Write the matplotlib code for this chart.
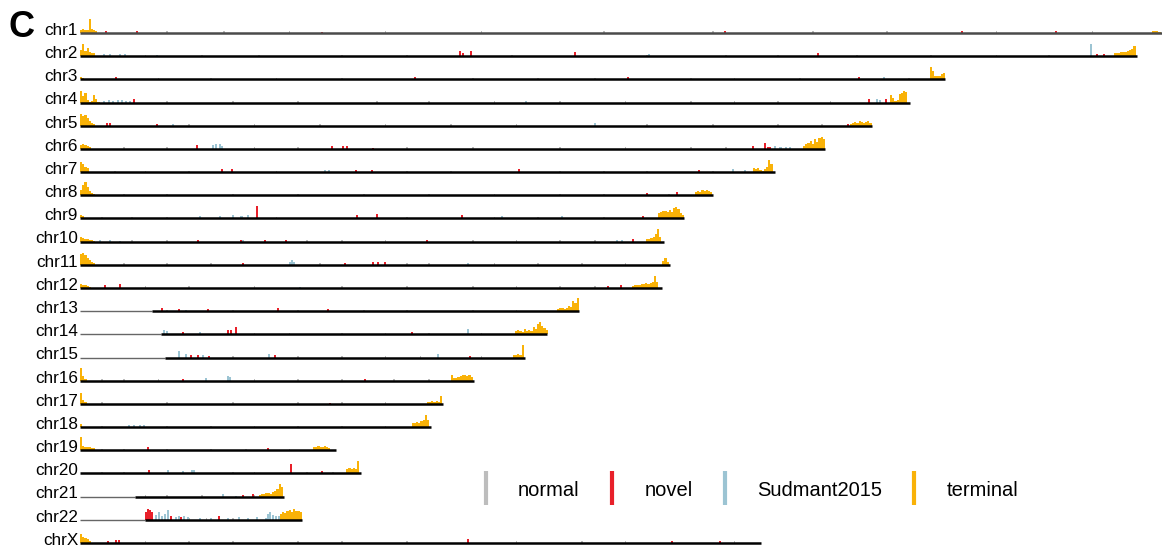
import matplotlib.pyplot as plt
from matplotlib.lines import Line2D

# chromosome names and lengths (Mb)
chroms = ['chr1', 'chr2', 'chr3', 'chr4', 'chr5', 'chr6', 'chr7', 'chr8', 'chr9', 'chr10', 'chr11', 'chr12',
          'chr13', 'chr14', 'chr15', 'chr16', 'chr17', 'chr18', 'chr19', 'chr20', 'chr21', 'chr22', 'chrX']
chrom_len = [248.96, 242.19, 198.30, 190.21, 181.54, 170.81, 159.35, 145.14, 138.39, 133.80, 135.09, 133.28,
             114.36, 107.04, 101.99, 90.34, 83.26, 80.37, 58.62, 64.44, 46.71, 50.82, 156.04]
# acrocentric short arms (drawn thin)
p_arm = {'chr13': 16.5, 'chr14': 18.5, 'chr15': 19.5, 'chr21': 12.5, 'chr22': 15.0}

# terminal clusters: (chrom, start Mb, heights per 0.5 Mb bin)
terminal = [
    ('chr1', 0.0, [3, 4, 3, 3, 14, 4, 3, 2]), ('chr1', 245.6, [2, 2, 2, 1]),
    ('chr2', 0.0, [6, 12, 5, 8, 4, 3, 3]), ('chr2', 236.9, [3, 3, 3, 4, 4, 4, 5, 6, 7, 10]),
    ('chr3', 0.0, [2, 1]), ('chr3', 194.8, [12, 8, 3, 3, 3, 5, 6]),
    ('chr4', 0.0, [12, 7, 10, 3, 1, 2, 8, 4, 1]), ('chr4', 185.6, [8, 5, 2, 3, 9, 10, 12, 11]),
    ('chr5', 0.0, [12, 10, 11, 8, 5, 3, 2]), ('chr5', 176.4, [2, 3, 4, 3, 5, 4, 3, 4, 5, 3]),
    ('chr6', 0.0, [4, 5, 4, 3, 2]), ('chr6', 165.7, [3, 5, 6, 8, 5, 10, 7, 11, 12, 10]),
    ('chr7', 0.0, [10, 8, 5, 4]), ('chr7', 154.2, [4, 3, 4, 2, 1, 3, 5, 12, 8]),
    ('chr8', 0.0, [5, 10, 13, 8, 4, 2, 1]), ('chr8', 140.9, [3, 4, 3, 5, 4, 5, 4, 3]),
    ('chr9', 0.0, [3, 2]), ('chr9', 132.4, [5, 6, 7, 7, 6, 8, 6, 10, 11, 9, 5, 3]),
    ('chr10', 0.0, [5, 4, 3, 3, 2, 2, 1]), ('chr10', 129.7, [3, 3, 4, 5, 8, 13, 5]),
    ('chr11', 0.0, [11, 12, 10, 7, 5, 3, 2]), ('chr11', 133.4, [4, 7, 3]),
    ('chr12', 0.0, [4, 3, 3, 2, 1]), ('chr12', 126.5, [2, 3, 3, 3, 4, 4, 5, 4, 5, 6, 12, 6]),
    ('chr13', 109.3, [2, 3, 3, 2, 3, 5, 4, 10, 8, 13]),
    ('chr14', 99.7, [3, 4, 3, 2, 5, 3, 4, 3, 7, 5, 10, 12, 8, 6, 4]),
    ('chr15', 99.2, [3, 3, 4, 3, 13]),
    ('chr16', 0.0, [13, 5, 2]), ('chr16', 85.0, [6, 3, 3, 4, 5, 6, 6, 5, 6, 4]),
    ('chr17', 0.0, [11, 4, 2]), ('chr17', 79.5, [2, 2, 3, 2, 3, 2, 8]),
    ('chr18', 0.0, [3]), ('chr18', 76.0, [4, 4, 5, 4, 6, 7, 12, 7]),
    ('chr19', 0.0, [13, 4, 3, 3, 3, 2, 2]), ('chr19', 53.4, [3, 3, 4, 3, 3, 4, 3, 2]),
    ('chr20', 61.0, [4, 5, 4, 5, 4, 12]),
    ('chr21', 41.0, [2, 3, 3, 4, 4, 3, 5, 6, 8, 13, 10]),
    ('chr22', 45.8, [6, 8, 7, 9, 10, 8, 11, 9, 9, 8]),
    ('chrX', 0.0, [9, 6, 5, 4, 2]),
]

# novel peaks: (chrom, Mb, height)
novel = [
    ('chr1', 6.0, 2), ('chr1', 13.1, 2), ('chr1', 55.5, 1), ('chr1', 147.8, 2), ('chr1', 202.1, 2), ('chr1', 223.6, 2),
    ('chr2', 87.1, 5), ('chr2', 87.8, 3), ('chr2', 89.6, 5), ('chr2', 113.4, 4), ('chr2', 169.1, 3),
    ('chr2', 233.0, 2), ('chr2', 234.7, 2),
    ('chr3', 8.2, 2), ('chr3', 76.8, 2), ('chr3', 125.6, 2), ('chr3', 178.5, 2),
    ('chr4', 12.4, 4), ('chr4', 180.8, 4), ('chr4', 184.7, 4),
    ('chr5', 6.2, 3), ('chr5', 6.9, 3), ('chr5', 17.6, 2), ('chr5', 176.0, 2),
    ('chr6', 26.8, 4), ('chr6', 57.7, 3), ('chr6', 60.3, 3), ('chr6', 61.2, 3), ('chr6', 67.1, 1),
    ('chr6', 154.2, 3), ('chr6', 157.0, 6), ('chr6', 157.7, 2), ('chr6', 158.1, 2),
    ('chr7', 32.5, 3), ('chr7', 34.8, 3), ('chr7', 63.2, 2), ('chr7', 66.9, 2), ('chr7', 100.6, 3), ('chr7', 141.8, 2),
    ('chr8', 129.9, 2), ('chr8', 136.8, 3),
    ('chr9', 40.6, 12), ('chr9', 63.5, 3), ('chr9', 68.1, 4), ('chr9', 87.5, 3), ('chr9', 129.0, 2),
    ('chr10', 27.0, 2), ('chr10', 36.9, 2), ('chr10', 42.4, 2), ('chr10', 47.2, 2), ('chr10', 79.5, 2),
    ('chr10', 126.7, 3),
    ('chr11', 37.4, 2), ('chr11', 60.7, 2), ('chr11', 67.1, 3), ('chr11', 68.3, 3), ('chr11', 69.9, 3),
    ('chr12', 5.7, 3), ('chr12', 9.2, 4), ('chr12', 121.0, 2), ('chr12', 124.0, 3),
    ('chr13', 18.8, 3), ('chr13', 22.7, 2), ('chr13', 29.3, 2), ('chr13', 45.4, 3), ('chr13', 56.8, 2),
    ('chr14', 23.6, 2), ('chr14', 33.9, 4), ('chr14', 34.6, 4), ('chr14', 35.7, 7), ('chr14', 76.1, 2),
    ('chr15', 25.4, 3), ('chr15', 27.0, 3), ('chr15', 29.6, 2), ('chr15', 44.7, 3), ('chr15', 89.4, 2),
    ('chr16', 23.6, 2), ('chr16', 65.3, 2),
    ('chr17', 57.3, 1),
    ('chr19', 15.6, 3), ('chr19', 43.1, 2),
    ('chr20', 15.8, 3), ('chr20', 48.3, 9), ('chr20', 55.5, 2),
    ('chr21', 37.4, 2), ('chr21', 39.6, 3),
    ('chr22', 15.1, 8), ('chr22', 15.6, 11), ('chr22', 16.0, 10), ('chr22', 16.5, 8), ('chr22', 20.9, 4),
    ('chr22', 23.1, 3), ('chr22', 31.9, 4),
    ('chrX', 6.4, 2), ('chrX', 8.2, 3), ('chrX', 8.9, 3), ('chrX', 88.9, 4), ('chrX', 135.7, 2), ('chrX', 146.7, 2),
]

# Sudmant2015 peaks: (chrom, Mb, height)
sudmant = [
    ('chr2', 5.5, 2), ('chr2', 6.9, 2), ('chr2', 9.2, 2), ('chr2', 10.3, 2), ('chr2', 17.6, 1), ('chr2', 130.4, 2),
    ('chr2', 231.7, 12),
    ('chr3', 184.2, 2),
    ('chr4', 5.5, 2), ('chr4', 6.6, 3), ('chr4', 7.6, 2), ('chr4', 8.7, 3), ('chr4', 9.6, 3), ('chr4', 10.5, 2),
    ('chr4', 11.5, 2), ('chr4', 102.2, 2), ('chr4', 182.6, 4), ('chr4', 183.3, 3),
    ('chr5', 21.3, 2), ('chr5', 118.0, 3),
    ('chr6', 30.5, 4), ('chr6', 31.2, 5), ('chr6', 32.1, 5), ('chr6', 32.5, 3),
    ('chr6', 159.3, 3), ('chr6', 160.5, 2), ('chr6', 161.7, 2), ('chr6', 162.7, 2),
    ('chr7', 56.1, 2), ('chr7', 57.1, 2), ('chr7', 149.6, 3), ('chr7', 152.4, 2),
    ('chr9', 27.5, 2), ('chr9', 32.0, 2), ('chr9', 35.0, 3), ('chr9', 37.0, 2), ('chr9', 38.5, 3),
    ('chr9', 96.7, 2), ('chr9', 110.4, 2),
    ('chr10', 4.6, 2), ('chr10', 6.9, 2), ('chr10', 9.2, 1), ('chr10', 37.4, 2), ('chr10', 123.0, 2),
    ('chr10', 124.2, 2),
    ('chr11', 48.1, 3), ('chr11', 48.6, 5), ('chr11', 49.0, 3), ('chr11', 88.9, 2),
    ('chr12', 50.4, 1),
    ('chr13', 24.3, 1),
    ('chr14', 19.2, 4), ('chr14', 19.9, 3), ('chr14', 27.5, 2), ('chr14', 88.9, 5),
    ('chr15', 22.7, 7), ('chr15', 24.3, 4), ('chr15', 28.2, 3), ('chr15', 43.3, 4), ('chr15', 82.0, 4),
    ('chr16', 28.9, 3), ('chr16', 33.9, 5), ('chr16', 34.4, 4),
    ('chr18', 11.2, 2), ('chr18', 12.4, 2), ('chr18', 13.7, 2), ('chr18', 14.7, 2),
    ('chr20', 20.2, 3), ('chr20', 23.6, 2), ('chr20', 25.7, 3), ('chr20', 26.1, 3),
    ('chr21', 32.8, 3), ('chr21', 35.7, 1),
    ('chr22', 17.4, 5), ('chr22', 18.1, 8), ('chr22', 18.8, 4), ('chr22', 19.5, 6), ('chr22', 20.2, 10),
    ('chr22', 22.0, 3), ('chr22', 22.7, 4), ('chr22', 23.8, 4), ('chr22', 24.7, 3),
    ('chr22', 27.5, 2), ('chr22', 30.0, 2), ('chr22', 34.0, 2), ('chr22', 36.5, 3), ('chr22', 38.5, 2),
    ('chr22', 40.5, 3), ('chr22', 42.6, 2),
    ('chr22', 43.1, 6), ('chr22', 43.5, 8), ('chr22', 44.2, 5), ('chr22', 44.9, 4), ('chr22', 45.6, 4),
]

# small "normal" ticks (Mb)
normal = {
    'chr1': [20, 33, 48, 70, 92, 120, 145, 168, 185, 210, 232],
    'chr2': [15, 28, 41, 60, 75, 99, 130, 148, 160, 178, 195, 210, 222],
    'chr3': [18, 30, 45, 60, 90, 105, 118, 140, 150, 165, 190],
    'chr4': [20, 35, 50, 68, 80, 95, 110, 125, 140, 150, 160, 172],
    'chr5': [25, 40, 55, 70, 85, 100, 130, 145, 160, 170],
    'chr6': [10, 20, 40, 50, 75, 90, 110, 125, 140, 148],
    'chr7': [8, 15, 25, 45, 75, 85, 110, 120, 130, 145],
    'chr8': [10, 20, 35, 50, 65, 80, 95, 110, 120, 135],
    'chr9': [5, 12, 20, 45, 75, 95, 105, 120],
    'chr10': [12, 20, 52, 60, 70, 90, 100, 110, 118],
    'chr11': [10, 20, 30, 55, 75, 80, 95, 105, 115, 125],
    'chr12': [15, 25, 40, 60, 75, 90, 100, 110, 118],
    'chr13': [20, 35, 50, 65, 75, 90, 100],
    'chr14': [40, 48, 60, 70, 80, 92],
    'chr15': [35, 50, 60, 70, 78, 92],
    'chr16': [5, 10, 18, 40, 50, 60, 72, 80],
    'chr17': [5, 20, 35, 50, 60, 70],
    'chr18': [5, 20, 30, 40, 50, 60, 70],
    'chr19': [5, 10, 20, 30, 38, 48],
    'chr20': [5, 10, 35, 40, 52, 58],
    'chr21': [15, 20, 28, 40],
    'chr22': [25, 29, 35],
    'chrX': [15, 25, 35, 50, 60, 75, 100, 115, 125, 150],
}
normal_height = 1.5

colors = {'normal': '#bdbdbd', 'novel': '#e8202a', 'Sudmant2015': '#9cc4d3', 'terminal': '#f9b208'}

plt.rcParams['font.family'] = ['Liberation Sans', 'DejaVu Sans']

px_per_mb = 4.364
fig, axes = plt.subplots(len(chroms), 1, figsize=(11.62, 5.5), dpi=100, sharex=True)
fig.subplots_adjust(left=80 / 1162, right=1, top=1 - 12.3 / 550, bottom=4.5 / 550, hspace=0)

for ax, name, length in zip(axes, chroms, chrom_len):
    ax.set_xlim(0, 1082 / px_per_mb)
    ax.set_ylim(-2.5, 20.68)
    ax.axis('off')

    # normal ticks
    xs = normal.get(name, [])
    ax.bar(xs, [normal_height] * len(xs), width=0.4, color=colors['normal'], linewidth=0)
    # Sudmant2015
    xs = [p for c, p, h in sudmant if c == name]
    hs = [h for c, p, h in sudmant if c == name]
    ax.bar(xs, hs, width=0.5, color=colors['Sudmant2015'], linewidth=0)
    # novel
    xs = [p for c, p, h in novel if c == name]
    hs = [h for c, p, h in novel if c == name]
    ax.bar(xs, hs, width=0.5, color=colors['novel'], linewidth=0)
    # terminal
    for c, start, hs in terminal:
        if c != name:
            continue
        xs = [start + 0.5 * i + 0.25 for i in range(len(hs))]
        ax.bar(xs, hs, width=0.5, color=colors['terminal'], linewidth=0)

    # chromosome line
    p = p_arm.get(name, 0)
    if p:
        ax.hlines(0, 0, p, color='#666666', lw=1.0, zorder=3)
    line_color = '#4a4a4a' if name == 'chr1' else 'black'
    ax.hlines(0, p, length, color=line_color, lw=1.8, zorder=3)

    ax.text(-0.45, -1.8, name, ha='right', va='baseline', fontsize=12.3, clip_on=False)

fig.text(9 / 1162, 1 - 37 / 550, 'C', fontsize=26, fontweight='bold', ha='left', va='baseline')

labels = ['normal', 'novel', 'Sudmant2015', 'terminal']
handles = [Line2D([], [], color=colors[l], marker='|', linestyle='None', markersize=24, markeredgewidth=3)
           for l in labels]
fig.legend(handles, labels, loc='center', bbox_to_anchor=(747 / 1162, 1 - 490 / 550), ncol=4,
           frameon=False, fontsize=14.5, handlelength=1.0, handletextpad=1.1, columnspacing=1.1)

fig.savefig('out.png', dpi=100)
